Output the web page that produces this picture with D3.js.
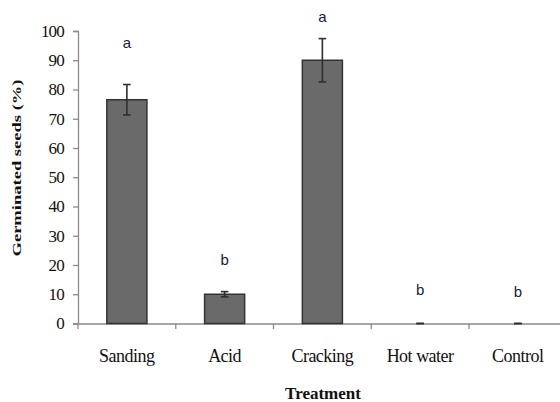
<!DOCTYPE html>
<html><head><meta charset="utf-8">
<script src="https://cdn.jsdelivr.net/npm/d3@7"></script>
<style>body{margin:0;background:#fff}</style>
</head><body>
<svg id="c" width="560" height="402"></svg>
<script>
const categories = ["Sanding", "Acid", "Cracking", "Hot water", "Control"];
const values = [76.5, 10, 90, 0, 0];
const errors = [5.2, 0.9, 7.4, 0, 0];
const letters = ["a", "b", "a", "b", "b"];
const letterY = [95.5, 21.4, 104.4, 11.1, 10.4];
const yTicks = [0,10,20,30,40,50,60,70,80,90,100];

const svg = d3.select("#c");
const x = d3.scaleBand().domain(categories).range([78, 566.75]).padding(0);
const y = d3.scaleLinear().domain([0, 100]).range([323.5, 31]);
const bw = x.bandwidth() * 0.41;

// y axis
const ya = svg.append("g").attr("transform", "translate(78,0)")
  .call(d3.axisLeft(y).tickValues(yTicks).tickSize(5).tickPadding(9));
ya.select(".domain").attr("stroke", "#8a8a8a").attr("stroke-width", 1.3);
ya.selectAll(".tick line").attr("stroke", "#8a8a8a").attr("stroke-width", 1.3);
ya.selectAll(".tick text").attr("font-family", "Liberation Serif").attr("font-size", 17)
  .attr("fill", "#111").attr("letter-spacing", -0.8);

// x axis
const xa = svg.append("g").attr("transform", "translate(0,323.5)")
  .call(d3.axisBottom(x).tickSize(0).tickFormat(""));
xa.select(".domain").attr("stroke", "#8a8a8a").attr("stroke-width", 1.3);
xa.selectAll(".tick").remove();
svg.append("g").selectAll("line").data(categories).join("line")
  .attr("x1", d => x(d)).attr("x2", d => x(d))
  .attr("y1", 323.5).attr("y2", 329).attr("stroke", "#8a8a8a").attr("stroke-width", 1.3);

svg.append("g").selectAll("text").data(categories).join("text")
  .attr("x", d => x(d) + x.bandwidth()/2).attr("y", 362)
  .attr("text-anchor", "middle").attr("font-family", "Liberation Serif")
  .attr("font-size", 18).attr("fill", "#111").attr("letter-spacing", -0.5).text(d => d);

// bars
svg.append("g").selectAll("rect").data(categories).join("rect")
  .attr("x", d => x(d) + x.bandwidth()/2 - bw/2)
  .attr("y", (d,i) => y(values[i]))
  .attr("width", bw)
  .attr("height", (d,i) => y(0) - y(values[i]))
  .attr("fill", "#6a6a6a").attr("stroke", "#333").attr("stroke-width", 1.5);

// error bars
const eg = svg.append("g").attr("stroke", "#2e2e2e").attr("stroke-width", 1.6);
categories.forEach((c, i) => {
  const cx = x(c) + x.bandwidth()/2;
  const hi = y(values[i] + errors[i]), lo = y(values[i] - errors[i]);
  eg.append("line").attr("x1", cx).attr("x2", cx).attr("y1", hi).attr("y2", lo);
  eg.append("line").attr("x1", cx-3.8).attr("x2", cx+3.8).attr("y1", hi).attr("y2", hi);
  eg.append("line").attr("x1", cx-3.8).attr("x2", cx+3.8).attr("y1", lo).attr("y2", lo);
});

// letters
svg.append("g").selectAll("text").data(categories).join("text")
  .attr("x", d => x(d) + x.bandwidth()/2)
  .attr("y", (d,i) => y(letterY[i]))
  .attr("text-anchor", "middle").attr("dominant-baseline", "middle")
  .attr("font-family", "Liberation Sans").attr("font-size", 15).attr("fill", "#1a1a3a")
  .text((d,i) => letters[i]);

// axis titles
svg.append("text").attr("transform", "translate(21,168) rotate(-90)")
  .attr("text-anchor", "middle").attr("font-family", "Liberation Serif")
  .attr("font-weight", "bold").attr("font-size", 12.5).attr("fill", "#111")
  .attr("textLength", 177).attr("lengthAdjust", "spacingAndGlyphs")
  .text("Germinated seeds  (%)");
svg.append("text").attr("x", 323).attr("y", 399)
  .attr("text-anchor", "middle").attr("font-family", "Liberation Serif")
  .attr("font-weight", "bold").attr("font-size", 17).attr("fill", "#111")
  .text("Treatment");
</script>
</body></html>
